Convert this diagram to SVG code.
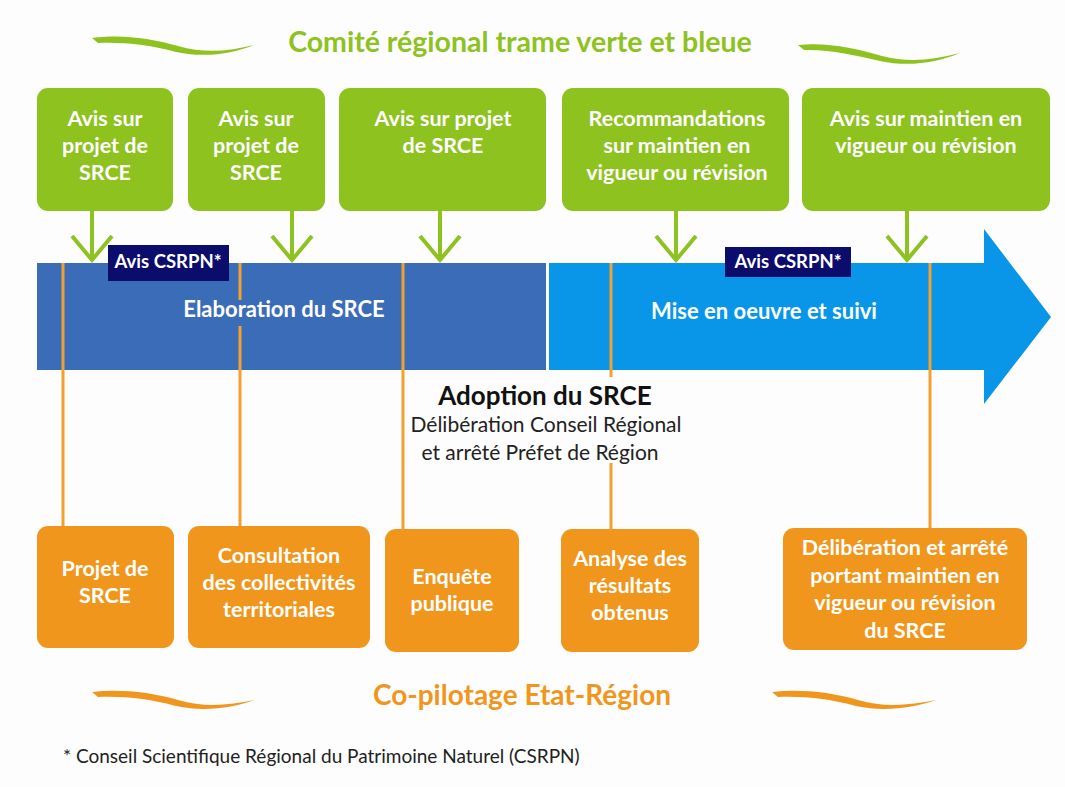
<svg xmlns="http://www.w3.org/2000/svg" width="1065" height="787" viewBox="0 0 1065 787">
<style>
text{font-family:Lato,"Open Sans","Liberation Sans",sans-serif;}
.gb{fill:#8dc21f;}
.ob{fill:#f0961c;}
.wt{fill:#fff;font-weight:bold;font-size:21.5px;text-anchor:middle;}
.bt{fill:#fff;font-weight:bold;font-size:22px;text-anchor:middle;}
.ct{fill:#fff;font-weight:bold;font-size:18.5px;text-anchor:middle;}
.nv{fill:#0c0c6c;}
.ga{fill:none;stroke:#8dc21f;stroke-width:4;}
.ol{fill:none;stroke:#f2a030;stroke-width:3;}
</style>
<rect width="1065" height="787" fill="#fdfdfd"/>

<g id="title-top">
<path d="M92,38 C120,34 150,38 178,46 C205,54 230,51 254,45 C232,54 205,58 176,52 C150,45 125,42 98,43 Z" fill="#8dc21f"/>
<path d="M798,45 C826,42 856,48 882,56 C908,63 934,60 960,53 C936,63 908,67 880,61 C855,55 828,49 804,50 Z" fill="#8dc21f"/>
<text x="520" y="52" font-size="28.5" font-weight="bold" fill="#8dc21f" text-anchor="middle">Comité régional trame verte et bleue</text>
</g>

<g id="band">
<rect x="37" y="263" width="509" height="107" fill="#3b6cb8"/>
<path d="M549,263 H984 V229 L1051,317 L984,404 V370 H549 Z" fill="#0996e8"/>
</g>

<g id="connectors">
<path class="ga" d="M92,211 V260 M72,236 L92,260 L112,236"/>
<path class="ga" d="M292,211 V260 M272,236 L292,260 L312,236"/>
<path class="ga" d="M440,211 V260 M420,236 L440,260 L460,236"/>
<path class="ga" d="M676,211 V260 M656,236 L676,260 L696,236"/>
<path class="ga" d="M907,211 V260 M887,236 L907,260 L927,236"/>
<path class="ol" d="M63,263 V527"/>
<path class="ol" d="M240,263 V300 M240,326 V527"/>
<path class="ol" d="M403,263 V530"/>
<path class="ol" d="M611,263 V377 M611,463 V530"/>
<path class="ol" d="M930,263 V529"/>
</g>

<g id="band-labels">
<text class="bt" x="284" y="317">Elaboration du SRCE</text>
<text class="bt" x="764" y="319">Mise en oeuvre et suivi</text>
</g>

<g id="csrpn1">
<rect class="nv" x="108" y="245" width="121" height="36"/>
<text class="ct" x="168" y="268">Avis CSRPN*</text>
</g>
<g id="csrpn2">
<rect class="nv" x="725" y="247" width="126" height="30"/>
<text class="ct" x="788" y="268">Avis CSRPN*</text>
</g>

<g id="g1">
<rect class="gb" x="37" y="88" width="136" height="123" rx="11"/>
<text class="wt" x="105" y="126">Avis sur</text>
<text class="wt" x="105" y="153">projet de</text>
<text class="wt" x="105" y="180">SRCE</text>
</g>
<g id="g2">
<rect class="gb" x="188" y="88" width="137" height="123" rx="11"/>
<text class="wt" x="256" y="126">Avis sur</text>
<text class="wt" x="256" y="153">projet de</text>
<text class="wt" x="256" y="180">SRCE</text>
</g>
<g id="g3">
<rect class="gb" x="339" y="88" width="207" height="123" rx="11"/>
<text class="wt" x="443" y="126">Avis sur projet</text>
<text class="wt" x="443" y="153">de SRCE</text>
</g>
<g id="g4">
<rect class="gb" x="562" y="88" width="227" height="123" rx="11"/>
<text class="wt" x="677" y="126">Recommandations</text>
<text class="wt" x="677" y="153">sur maintien en</text>
<text class="wt" x="677" y="180">vigueur ou révision</text>
</g>
<g id="g5">
<rect class="gb" x="802" y="88" width="248" height="123" rx="11"/>
<text class="wt" x="926" y="126">Avis sur maintien en</text>
<text class="wt" x="926" y="153">vigueur ou révision</text>
</g>

<g id="adoption">
<text x="545" y="405" font-size="26" font-weight="bold" fill="#111" text-anchor="middle">Adoption du SRCE</text>
<text x="546" y="432" font-size="21" fill="#222" text-anchor="middle">Délibération Conseil Régional</text>
<text x="540" y="460" font-size="21" fill="#222" text-anchor="middle">et arrêté Préfet de Région</text>
</g>

<g id="o1">
<rect class="ob" x="37" y="526" width="137" height="122" rx="11"/>
<text class="wt" x="105" y="576">Projet de</text>
<text class="wt" x="105" y="603">SRCE</text>
</g>
<g id="o2">
<rect class="ob" x="188" y="526" width="182" height="122" rx="11"/>
<text class="wt" x="279" y="563">Consultation</text>
<text class="wt" x="279" y="590">des collectivités</text>
<text class="wt" x="279" y="617">territoriales</text>
</g>
<g id="o3">
<rect class="ob" x="385" y="529" width="134" height="123" rx="11"/>
<text class="wt" x="452" y="584">Enquête</text>
<text class="wt" x="452" y="611">publique</text>
</g>
<g id="o4">
<rect class="ob" x="561" y="529" width="138" height="123" rx="11"/>
<text class="wt" x="630" y="566">Analyse des</text>
<text class="wt" x="630" y="593">résultats</text>
<text class="wt" x="630" y="620">obtenus</text>
</g>
<g id="o5">
<rect class="ob" x="783" y="528" width="244" height="122" rx="11"/>
<text class="wt" x="905" y="555">Délibération et arrêté</text>
<text class="wt" x="905" y="583">portant maintien en</text>
<text class="wt" x="905" y="610">vigueur ou révision</text>
<text class="wt" x="905" y="638">du SRCE</text>
</g>

<g id="title-bottom">
<path d="M92,692 C120,689 150,692 178,700 C205,708 230,705 254,700 C232,708 205,712 176,706 C150,699 125,696 98,697 Z" fill="#f0961c"/>
<path d="M772,692 C800,689 830,692 858,700 C885,708 910,705 936,700 C912,708 885,712 856,706 C830,699 805,696 778,697 Z" fill="#f0961c"/>
<text x="522" y="705" font-size="28" font-weight="bold" fill="#f0961c" text-anchor="middle">Co-pilotage Etat-Région</text>
</g>

<g id="footnote">
<text x="63" y="763" font-size="19" fill="#222">* Conseil Scientifique Régional du Patrimoine Naturel (CSRPN)</text>
</g>
</svg>
